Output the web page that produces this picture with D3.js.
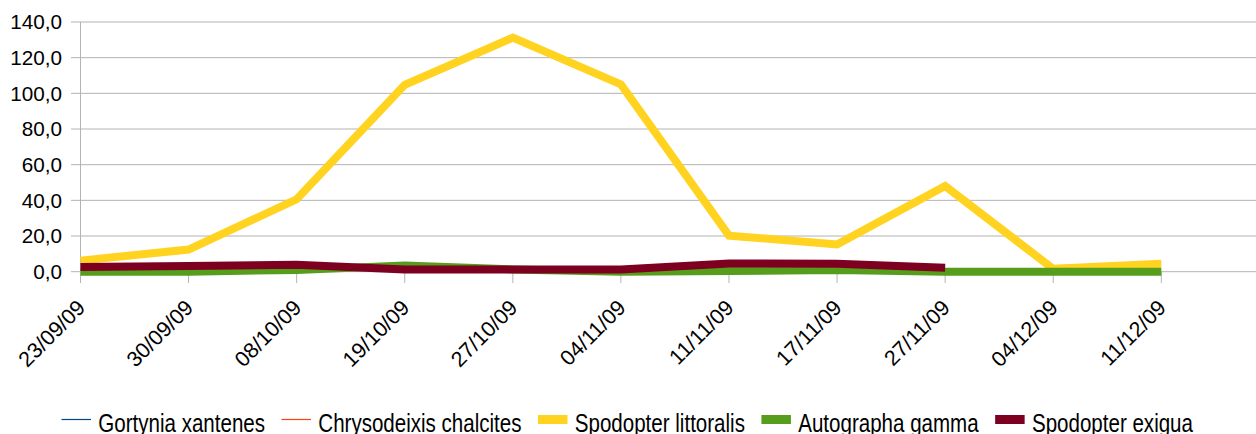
<!DOCTYPE html>
<html>
<head>
<meta charset="utf-8">
<script src="https://cdn.jsdelivr.net/npm/d3@7"></script>
<style>
  html, body { margin: 0; padding: 0; background: #fff; }
  svg { display: block; font-family: "Liberation Sans", Arial, sans-serif; }
</style>
</head>
<body>
<svg id="chart" width="1256" height="434"></svg>
<script>
// ---- data ----
const dates = ["23/09/09","30/09/09","08/10/09","19/10/09","27/10/09","04/11/09","11/11/09","17/11/09","27/11/09","04/12/09","11/12/09"];
const gortyniaXantenes     = [null,null,null,null,null,null,null,null,null,null,null];
const chrysodeixisChalcites = [null,null,null,null,null,null,null,null,null,null,null];
const spodopterLittoralis  = [6.2, 12.4, 40.6, 104.8, 131.2, 105.0, 20.2, 15.3, 48.0, 1.6, 4.5];
const autographaGamma      = [0, 0, 1.0, 3.5, 1.3, 0, 0.4, 1.0, 0, 0, 0];
const spodopterExigua      = [2.6, 3.2, 3.9, 1.2, 1.2, 1.3, 4.6, 4.4, 2.2, null, null];
const yTicks = [0, 20, 40, 60, 80, 100, 120, 140];

const seriesNames  = ["Gortynia xantenes","Chrysodeixis chalcites","Spodopter littoralis","Autographa gamma","Spodopter exigua"];
const seriesValues = [gortyniaXantenes, chrysodeixisChalcites, spodopterLittoralis, autographaGamma, spodopterExigua];
const seriesColors = ["#004586","#ff420e","#ffd320","#579d1c","#7e0021"];
const seriesWidths = [1, 1, 8, 8, 8];

// ---- layout ----
const svg = d3.select("#chart");
const x = d3.scalePoint().domain(dates).range([80.5, 1161.3]).padding(0);
const y = d3.scaleLinear().domain([0, 140]).range([271.7, 22]);
const grid = "#b3b3b3";
const fmt = v => d3.format(".1f")(v).replace(".", ",");

// horizontal gridlines + y ticks
svg.append("g").selectAll("line").data(yTicks).join("line")
  .attr("x1", 71).attr("x2", 1256)
  .attr("y1", d => y(d)).attr("y2", d => y(d))
  .attr("stroke", grid).attr("stroke-width", 1);

// y axis line
svg.append("line").attr("x1", 80.5).attr("x2", 80.5).attr("y1", y(140)).attr("y2", 283)
  .attr("stroke", grid).attr("stroke-width", 1);

// x tick marks
svg.append("g").selectAll("line").data(dates).join("line")
  .attr("x1", d => x(d)).attr("x2", d => x(d))
  .attr("y1", y(0)).attr("y2", 283)
  .attr("stroke", grid).attr("stroke-width", 1);

// y labels
svg.append("g").selectAll("text").data(yTicks).join("text")
  .attr("x", 62).attr("y", d => y(d) + 7.4)
  .attr("text-anchor", "end")
  .attr("font-size", "20.7px").attr("fill", "#000")
  .text(d => fmt(d));

// x labels
svg.append("g").selectAll("text").data(dates).join("text")
  .attr("transform", d => `translate(${x(d) + 6},${309}) rotate(-45)`)
  .attr("text-anchor", "end")
  .attr("font-size", "21.5px").attr("fill", "#000")
  .text(d => d);

// lines
const line = d3.line()
  .defined(d => d.v != null)
  .x(d => x(d.k)).y(d => y(d.v));

seriesValues.forEach((vals, i) => {
  const data = dates.map((k, j) => ({k, v: vals[j]}));
  if (data.filter(d => d.v != null).length < 2) return;
  svg.append("path")
    .attr("d", line(data))
    .attr("fill", "none")
    .attr("stroke", seriesColors[i])
    .attr("stroke-width", seriesWidths[i])
    .attr("stroke-linejoin", "miter")
    .attr("stroke-linecap", "butt");
});

// legend
const lg = svg.append("g");
let cx = 61.5;
const ly = 419.5;
seriesNames.forEach((name, i) => {
  if (seriesWidths[i] > 2) {
    lg.append("rect").attr("x", cx).attr("y", ly - 4.5).attr("width", 29.5).attr("height", 9)
      .attr("fill", seriesColors[i]);
  } else {
    lg.append("line").attr("x1", cx).attr("x2", cx + 29.5).attr("y1", ly).attr("y2", ly)
      .attr("stroke", seriesColors[i]).attr("stroke-width", 1.2);
  }
  const t = lg.append("text").attr("x", cx + 36.8).attr("y", 432)
    .attr("font-size", "26px").attr("fill", "#000").text(name);
  const w = t.node().getComputedTextLength() * 0.79;
  t.attr("textLength", w).attr("lengthAdjust", "spacingAndGlyphs");
  cx = cx + 36.8 + w + 16.5;
});
</script>
</body>
</html>
